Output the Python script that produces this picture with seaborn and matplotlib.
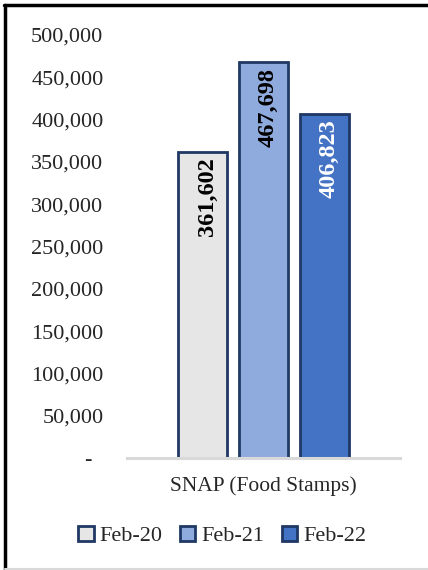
import matplotlib
matplotlib.use("Agg")
import matplotlib.pyplot as plt
from matplotlib.lines import Line2D
from matplotlib.patches import Patch
import seaborn as sns
import pandas as pd

# Monthly SNAP caseload
program = "SNAP (Food Stamps)"
months = ["Feb-20", "Feb-21", "Feb-22"]
recipients = [361602, 467698, 406823]
bar_colors = ["#E7E6E6", "#8FAADC", "#4472C4"]
label_colors = ["black", "black", "white"]
edge_color = "#203864"
y_ticks = [0, 50000, 100000, 150000, 200000, 250000, 300000, 350000, 400000, 450000, 500000]

sns.set_theme(style="white")
plt.rcParams["font.family"] = ["Liberation Serif", "DejaVu Serif"]

W, H = 428, 570
fig = plt.figure(figsize=(W / 100, H / 100), dpi=100)
ax = fig.add_axes([127 / W, (H - 458) / H, 273 / W, 423 / H])

df = pd.DataFrame({"program": [program] * len(months), "month": months, "recipients": recipients})
sns.barplot(data=df, x="program", y="recipients", hue="month", hue_order=months,
            palette=bar_colors, width=0.8, gap=0.2, edgecolor=edge_color,
            linewidth=2, saturation=1, legend=False, ax=ax)

ax.set_xlim(-0.597, 0.597)
ax.set_ylim(0, 500000)
ax.set_yticks(y_ticks)
ax.set_yticklabels(["-  " if v == 0 else f"{v:,}" for v in y_ticks])
ax.tick_params(axis="y", length=0, pad=17, labelsize=16)
ax.tick_params(axis="x", length=0, pad=13, labelsize=15.5)
ax.set_xlabel("")
ax.set_ylabel("")
for side in ["left", "right", "top"]:
    ax.spines[side].set_visible(False)
ax.spines["bottom"].set_color("#D9D9D9")
ax.spines["bottom"].set_linewidth(2.2)

# Value labels, rotated inside the top of each bar
for container, v, tc in zip(ax.containers, recipients, label_colors):
    bar = container[0]
    ax.annotate(f"{v:,}", (bar.get_x() + bar.get_width() / 2, bar.get_height()),
                xytext=(3.5, -4), textcoords="offset points", rotation=90,
                ha="center", va="top", fontsize=17.5, fontweight="bold", color=tc)

handles = [Patch(facecolor=c, edgecolor=edge_color, linewidth=2, label=m)
           for c, m in zip(bar_colors, months)]
fig.legend(handles=handles, loc="center", bbox_to_anchor=(222 / W, 1 - 536 / H),
           ncol=3, frameon=False, fontsize=16, handlelength=0.7, handleheight=0.7,
           handletextpad=0.25, columnspacing=0.8)

# Outer frame
fig.add_artist(Line2D([5 / W, 5 / W], [0, 1 - 5 / H], color="black", linewidth=2.5, transform=fig.transFigure))
fig.add_artist(Line2D([4 / W, 1], [1 - 5 / H, 1 - 5 / H], color="black", linewidth=2.5, transform=fig.transFigure))
fig.add_artist(Line2D([5 / W, 1], [1.2 / H, 1.2 / H], color="#D9D9D9", linewidth=1.5, transform=fig.transFigure))

fig.savefig("out.png", dpi=100)
